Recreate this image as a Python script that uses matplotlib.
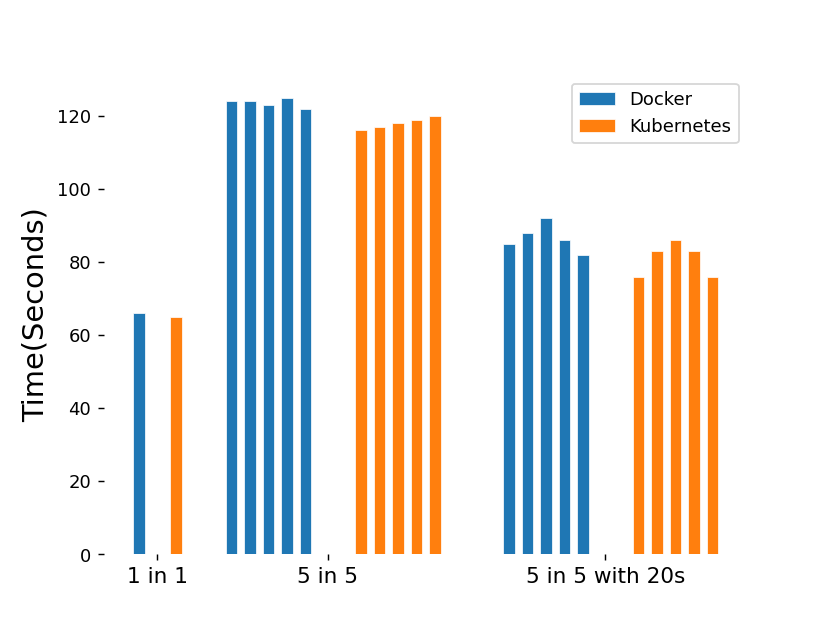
import matplotlib

matplotlib.use("Agg")
import matplotlib.pyplot as plt

# values
groups = ["1 in 1", "5 in 5", "5 in 5 with 20s"]
docker = [[66], [124, 124, 123, 125, 122], [85, 88, 92, 86, 82]]
kubernetes = [[65], [116, 117, 118, 119, 120], [76, 83, 86, 83, 76]]

# layout: first bar slot of each run, and the group tick positions
docker_start = [0, 5, 20]
kube_start = [2, 12, 27]
tick_pos = [1, 10.2, 25.2]
bar_width = 0.63


def main() -> None:
    fig, ax = plt.subplots(figsize=(6.4, 4.8), dpi=129.8)

    for i in range(len(groups)):
        dx = [docker_start[i] + k for k in range(len(docker[i]))]
        kx = [kube_start[i] + k for k in range(len(kubernetes[i]))]
        ax.bar(dx, docker[i], width=bar_width, color="#1f77b4",
               edgecolor="white", linewidth=0.4,
               label="Docker" if i == 0 else None)
        ax.bar(kx, kubernetes[i], width=bar_width, color="#ff7f0e",
               edgecolor="white", linewidth=0.4,
               label="Kubernetes" if i == 0 else None)

    ax.set_xticks(tick_pos)
    ax.set_xticklabels(groups, fontsize=12)
    ax.set_yticks(range(0, 121, 20))
    ax.set_ylabel("Time(Seconds)", fontsize=16)
    for side in ("top", "right", "bottom", "left"):
        ax.spines[side].set_visible(False)
    ax.legend(loc="upper right")

    fig.savefig("out.png", dpi=129.8)
    plt.close(fig)


if __name__ == "__main__":
    main()
